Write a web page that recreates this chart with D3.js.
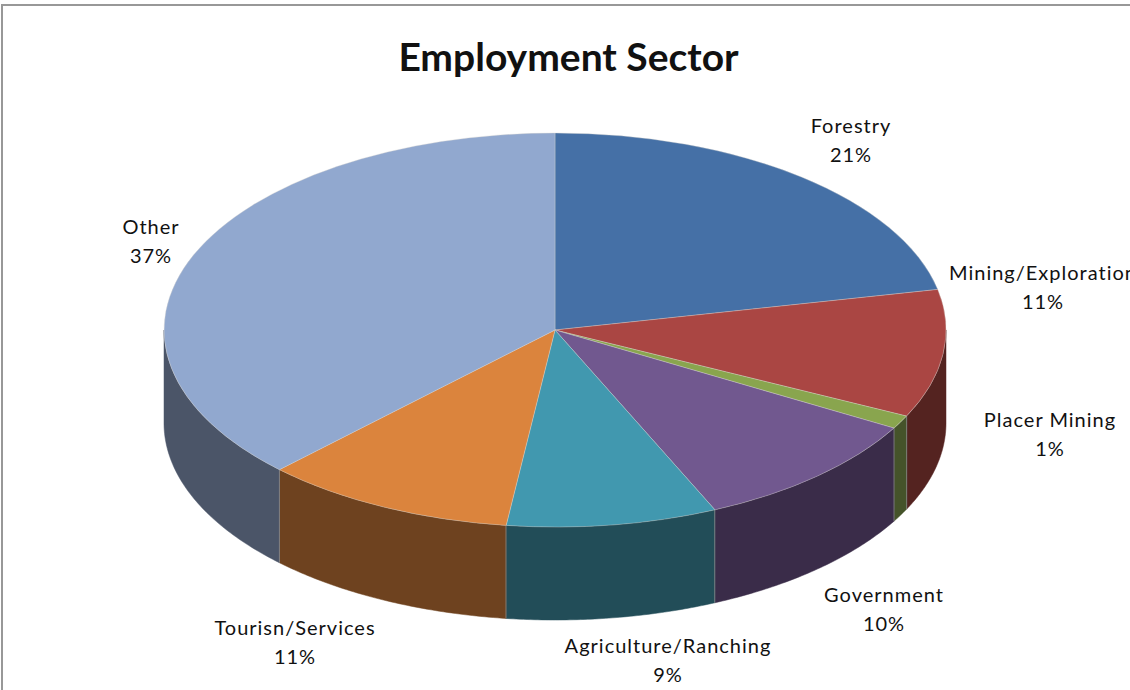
<!DOCTYPE html>
<html>
<head>
<meta charset="utf-8">
<script src="https://cdn.jsdelivr.net/npm/d3@7/dist/d3.min.js"></script>
<style>
html,body{margin:0;padding:0;background:#fff;overflow:hidden}
svg{display:block}
text{font-family:Lato,"Open Sans",sans-serif;fill:#111}
</style>
</head>
<body>
<svg id="c" width="1130" height="690"></svg>
<script>
// Data
const categories = ["Forestry","Mining/Exploration","Placer Mining","Government","Agriculture/Ranching","Tourisn/Services","Other"];
const shares = [21.7,10.5,1.1,10.0,8.7,10.45,37.55];
const percentLabels = ["21%","11%","1%","10%","9%","11%","37%"];
const title = "Employment Sector";

// Styling and layout
const topColors  = ["#4570A6","#AA4643","#89A54E","#71588F","#4198AF","#DB843D","#91A8CF"];
const sideColors = ["#2A4365","#542320","#45532A","#3A2C49","#224D58","#6E421F","#4B5568"];
const labelCentres = [[851,133],[1043,280],[1050,427],[884,602],[668,653],[295,635],[151,234]];
const cx = 555, cy = 330, rx = 391, ry = 197, depth = 93;

const svg = d3.select("#c");
// Chart frame: only top and left edges fall inside the picture
svg.append("path").attr("d","M2,690V5H1130").attr("fill","none").attr("stroke","#989898").attr("stroke-width",2);

svg.append("text").attr("x",568.5).attr("y",71).attr("text-anchor","middle")
  .style("font-size","39px").style("font-weight",700).text(title);

const pie = d3.pie().sort(null).value(d => d);
const slices = pie(shares);

const px = a => cx + rx*Math.sin(a);
const py = (a,dz=0) => cy - ry*Math.cos(a) + dz;

// Side walls: only the near half of the rim (90deg..270deg) shows
const line = d3.line();
const walls = svg.append("g");
slices.forEach((s,i)=>{
  const a0 = Math.max(s.startAngle, Math.PI/2), a1 = Math.min(s.endAngle, 3*Math.PI/2);
  if (a1 <= a0) return;
  const n = 60, angles = d3.range(n+1).map(k => a0 + (a1-a0)*k/n);
  const pts = angles.map(a=>[px(a),py(a)]).concat(angles.slice().reverse().map(a=>[px(a),py(a,depth)]));
  walls.append("path").attr("d",line(pts)+"Z").attr("fill",sideColors[i]).attr("stroke",sideColors[i]).attr("stroke-width",0.5);
});
// Seams between wall segments
slices.forEach((s,i)=>{
  const a = s.startAngle;
  if (a <= Math.PI/2 || a >= 3*Math.PI/2) return;
  walls.append("path").attr("d",line([[px(a),py(a)],[px(a),py(a,depth)]]))
    .attr("stroke","#8a8a8a").attr("stroke-width",0.8).attr("fill","none");
});

// Top face: unit arc stretched to an ellipse
const arc = d3.arc().innerRadius(0).outerRadius(1);
svg.append("g").attr("transform",`translate(${cx},${cy}) scale(${rx},${ry})`)
  .selectAll("path").data(slices).join("path")
  .attr("d",arc).attr("fill",(d,i)=>topColors[i])
  .attr("stroke","#d9d4cf").attr("stroke-opacity",0.6).attr("stroke-width",0.6)
  .attr("vector-effect","non-scaling-stroke");

// Labels
const lab = svg.append("g").attr("text-anchor","middle").style("font-size","20px").style("letter-spacing","1px");
categories.forEach((c,i)=>{
  const [x,y] = labelCentres[i];
  lab.append("text").attr("x",x).attr("y",y).text(c);
  lab.append("text").attr("x",x).attr("y",y+29).text(percentLabels[i]);
});
</script>
</body>
</html>
